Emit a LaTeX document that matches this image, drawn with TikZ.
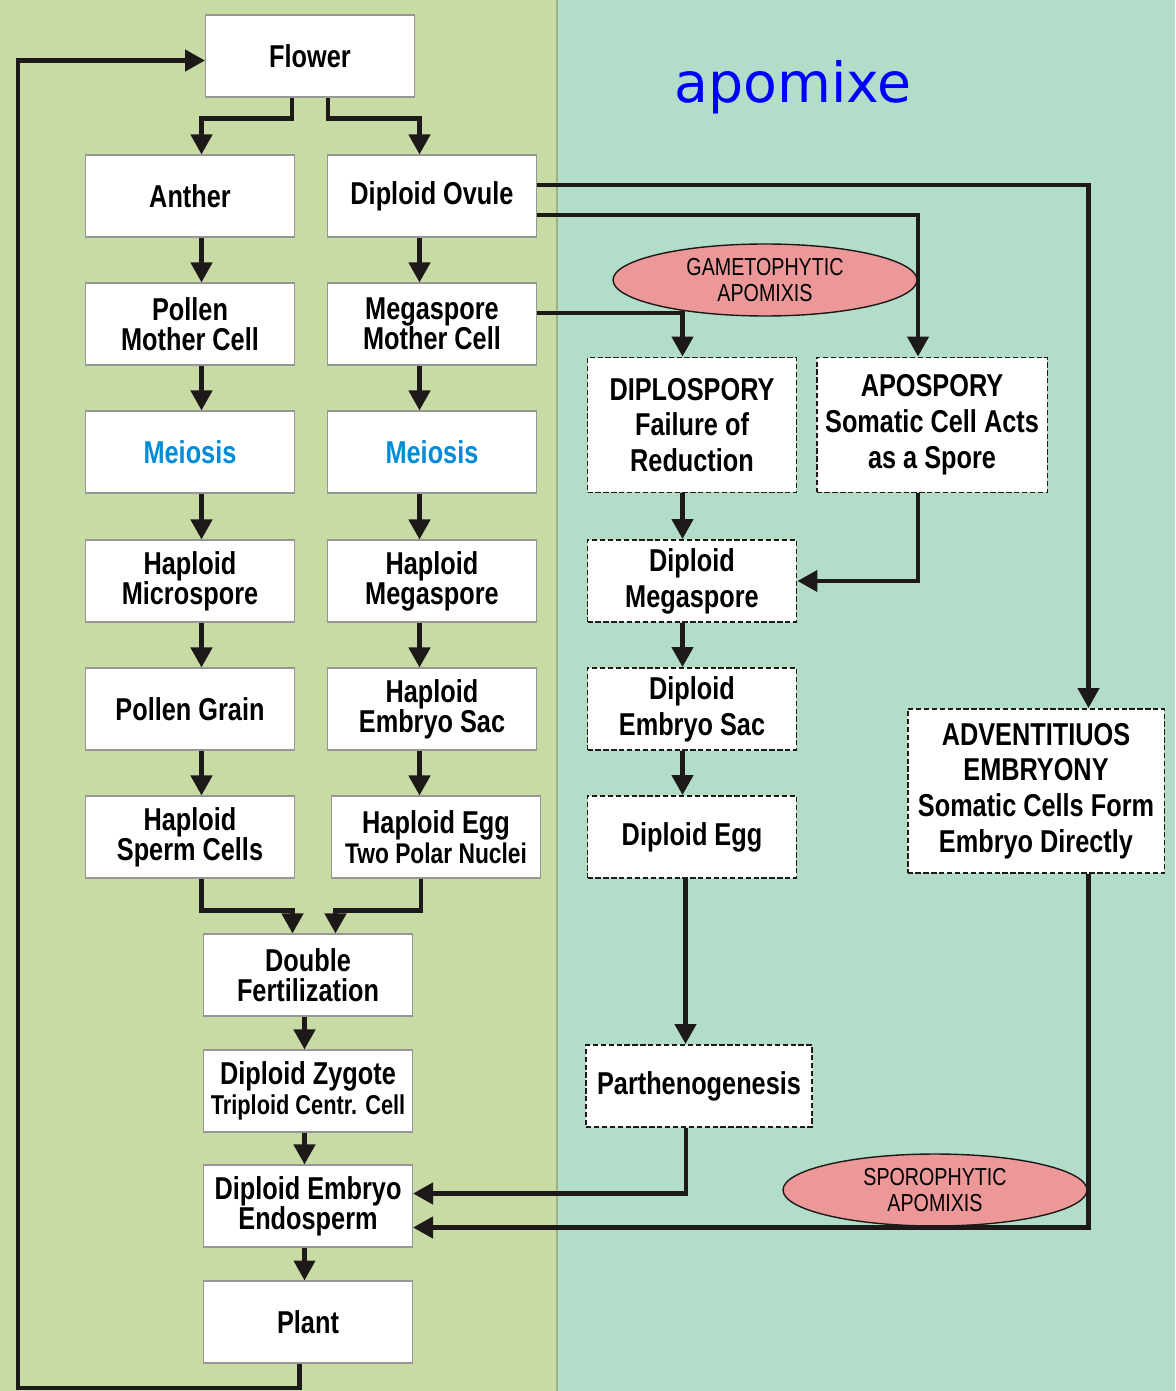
\documentclass[tikz,border=0pt]{standalone}
\usepackage{fontspec}
\setmainfont{Liberation Sans}[FakeStretch=0.80]
\newfontfamily\titlefont{DejaVu Sans}
\usetikzlibrary{arrows.meta,shapes.geometric}
\definecolor{leftbg}{RGB}{200,219,165}
\definecolor{rightbg}{RGB}{178,221,200}
\definecolor{ovalfill}{RGB}{236,152,152}
\definecolor{meiosisblue}{RGB}{0,140,215}
\definecolor{linecol}{RGB}{30,25,25}
\definecolor{framegray}{RGB}{150,150,150}
\begin{document}
\begin{tikzpicture}
[x=0.02cm,y=-0.02cm,
 boxdecorate/.style={shape=rectangle,draw=framegray,line width=0.6pt,fill=white,
   minimum width=4.18cm,minimum height=1.64cm,inner sep=0pt,align=center,
   font=\fontsize{18}{17}\selectfont\bfseries},
 dashdecorate/.style={boxdecorate,draw=linecol,dash pattern=on 3pt off 1.5pt,
   line width=1.1pt,font=\fontsize{18}{20.4}\selectfont\bfseries},
 ovaldecorate/.style={shape=ellipse,draw=linecol,line width=0.8pt,fill=ovalfill,
   minimum width=6.08cm,minimum height=1.44cm,inner sep=0pt,align=center,
   font=\fontsize{14}{15.3}\selectfont},
 linedecorate/.style={-{Triangle[length=0.4cm,width=0.42cm]},line width=2.5pt,draw=linecol}]
%% background panels
\useasboundingbox (0,0) rectangle (1175,1391);
\fill[leftbg] (0,0) rectangle (557,1391);
\fill[rightbg] (557,0) rectangle (1175,1391);
\draw[color=leftbg!80!black,line width=0.8pt] (557,0) -- (557,1391);
\node (title) at (793,87) {\titlefont\fontsize{31.5}{33}\selectfont\color{blue}apomixe};
%% sexual pathway
\foreach \nodename/\x/\y/\nodetext in {flower/310/56/Flower,
  anther/190/196/Anther, ovule/432/196/Diploid Ovule,
  pollenmc/190/324/{Pollen\\Mother Cell}, megamc/432/324/{Megaspore\\Mother Cell},
  meiosisL/190/452/{\color{meiosisblue}Meiosis}, meiosisR/432/452/{\color{meiosisblue}Meiosis},
  microspore/190/581/{Haploid\\Microspore}, megaspore/432/581/{Haploid\\Megaspore},
  pollengrain/190/709/Pollen Grain, embryosac/432/709/{Haploid\\Embryo Sac},
  sperm/190/837/{Haploid\\Sperm Cells},
  egg/436/837/{Haploid Egg\\{\fontsize{16.2}{17}\selectfont Two Polar Nuclei}},
  fert/308/975/{Double\\Fertilization},
  zygote/308/1091/{Diploid Zygote\\{\fontsize{15.5}{17}\selectfont Triploid Centr. Cell}},
  embryo/308/1206/{Diploid Embryo\\Endosperm}, plant/308/1322/Plant} {
  \node (\nodename) at (\x,\y) [boxdecorate] {\nodetext};
}
%% apomictic pathway
\foreach \nodename/\x/\y/\w/\h/\nodetext in {
  diplo/692/425/4.18/2.7/{DIPLOSPORY\\Failure of\\Reduction},
  apo/932/425/4.62/2.7/{APOSPORY\\Somatic Cell Acts\\as a Spore},
  dmega/692/581/4.18/1.64/{Diploid\\Megaspore},
  dsac/692/709/4.18/1.64/{Diploid\\Embryo Sac},
  degg/692/837/4.18/1.64/Diploid Egg,
  parth/699/1086/4.52/1.64/Parthenogenesis,
  adv/1036/791/5.14/3.28/{ADVENTITIUOS\\EMBRYONY\\Somatic Cells Form\\Embryo Directly}} {
  \node (\nodename) at (\x,\y) [dashdecorate,minimum width=\w cm,minimum height=\h cm] {\nodetext};
}
\node (gametophytic) at (765,280) [ovaldecorate] {GAMETOPHYTIC\\APOMIXIS};
\node (sporophytic) at (935,1190) [ovaldecorate] {SPOROPHYTIC\\APOMIXIS};
\coordinate (loopcorner) at (18,1388);
%% straight arrows
\path
\foreach \startnode/\endnode in {anther/pollenmc, pollenmc/meiosisL, meiosisL/microspore,
  microspore/pollengrain, pollengrain/sperm} {
  ([xshift=0.23cm]\startnode.south) edge[linedecorate] ([xshift=0.23cm]\endnode.north)
};
\path
\foreach \startnode/\endnode in {ovule/megamc, megamc/meiosisR, meiosisR/megaspore,
  megaspore/embryosac} {
  ([xshift=-0.25cm]\startnode.south) edge[linedecorate] ([xshift=-0.25cm]\endnode.north)
};
\path
\foreach \startnode/\endnode in {diplo/dmega, dmega/dsac, dsac/degg} {
  ([xshift=-0.19cm]\startnode.south) edge[linedecorate] ([xshift=-0.19cm]\endnode.north)
};
\path
\foreach \startnode/\endnode in {fert/zygote, zygote/embryo, embryo/plant} {
  ([xshift=-0.07cm]\startnode.south) edge[linedecorate] ([xshift=-0.07cm]\endnode.north)
};
\draw[linedecorate] ([xshift=-0.25cm]embryosac.south) -- ([xshift=-0.25cm]embryosac.south |- egg.north);
\draw[linedecorate] ([xshift=-0.13cm]degg.south) -- ([xshift=-0.13cm]degg.south |- parth.north);
%% elbow arrows
\draw[linedecorate] ([xshift=-0.36cm]flower.south) -- ++(0,21) -| ([xshift=0.23cm]anther.north);
\draw[linedecorate] ([xshift=0.36cm]flower.south) -- ++(0,21) -| ([xshift=-0.25cm]ovule.north);
\draw[linedecorate] ([xshift=0.23cm]sperm.south) -- ++(0,32) -| ([xshift=-0.31cm]fert.north);
\draw[linedecorate] ([xshift=-0.3cm]egg.south) -- ++(0,32) -| ([xshift=0.55cm]fert.north);
\draw[linedecorate] ([xshift=-0.17cm]plant.south) |- (loopcorner) |- ([yshift=-0.09cm]flower.west);
\draw[linedecorate] ([yshift=0.22cm]ovule.east) -| ([xshift=1.05cm]adv.north);
\draw[linedecorate] ([yshift=-0.38cm]ovule.east) -| ([xshift=-0.28cm]apo.north);
\draw[linedecorate] ([yshift=0.22cm]megamc.east) -| ([xshift=-0.19cm]diplo.north);
\draw[linedecorate] ([xshift=-0.28cm]apo.south) |- (dmega.east);
\draw[linedecorate] ([xshift=-0.26cm]parth.south) |- ([yshift=0.25cm]embryo.east);
\draw[linedecorate] ([xshift=1.05cm]adv.south) |- ([yshift=-0.43cm]embryo.east);
\end{tikzpicture}
\end{document}
